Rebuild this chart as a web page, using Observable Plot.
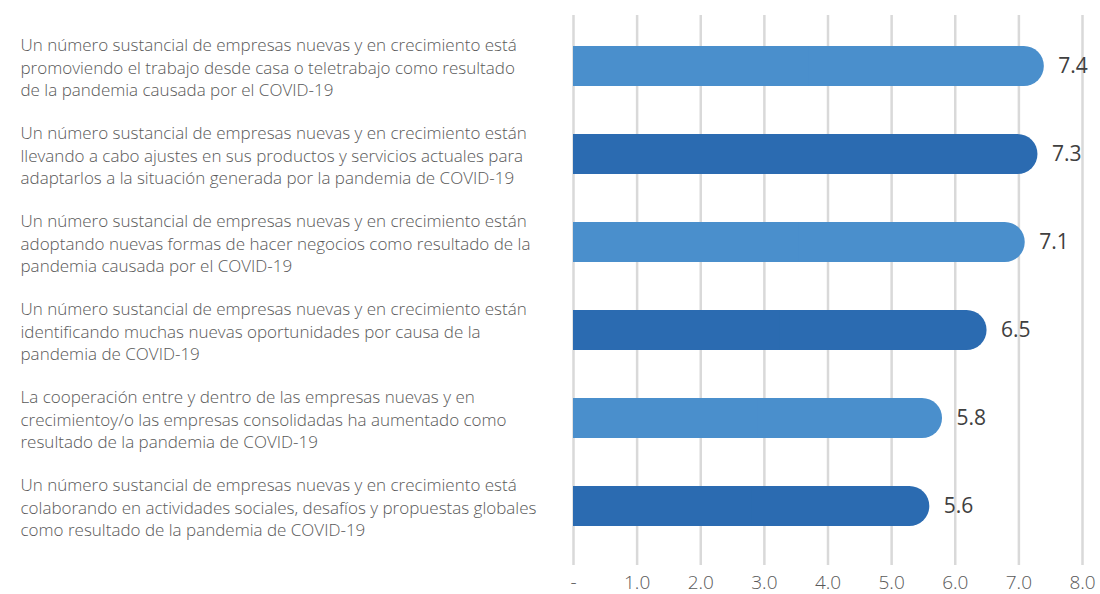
<!DOCTYPE html>
<html><head><meta charset="utf-8">
<script src="https://cdn.jsdelivr.net/npm/d3@7"></script>
<script src="https://cdn.jsdelivr.net/npm/@observablehq/plot@0.6"></script>
<style>body{margin:0;background:#fff;} svg{display:block;}</style>
</head><body><div id="chart"></div>
<script>
const categories = [
  "Un número sustancial de empresas nuevas y en crecimiento está\npromoviendo el trabajo desde casa o teletrabajo como resultado\nde la pandemia causada por el COVID-19",
  "Un número sustancial de empresas nuevas y en crecimiento están\nllevando a cabo ajustes en sus productos y servicios actuales para\nadaptarlos a la situación generada por la pandemia de COVID-19",
  "Un número sustancial de empresas nuevas y en crecimiento están\nadoptando nuevas formas de hacer negocios como resultado de la\npandemia causada por el COVID-19",
  "Un número sustancial de empresas nuevas y en crecimiento están\nidentificando muchas nuevas oportunidades por causa de la\npandemia de COVID-19",
  "La cooperación entre y dentro de las empresas nuevas y en\ncrecimientoy/o las empresas consolidadas ha aumentado como\nresultado de la pandemia de COVID-19",
  "Un número sustancial de empresas nuevas y en crecimiento está\ncolaborando en actividades sociales, desafíos y propuestas globales\ncomo resultado de la pandemia de COVID-19"
];
const values = [7.4, 7.3, 7.1, 6.5, 5.8, 5.6];
const shades = ["light", "dark", "light", "dark", "light", "dark"];
const ticks = [0, 1, 2, 3, 4, 5, 6, 7, 8];

const data = categories.map((c, i) => ({cat: c, value: values[i], shade: shades[i]}));
const fmt = d => d === 0 ? "-" : d3.format(".1f")(d);

const chart = Plot.plot({
  width: 1100,
  height: 594,
  marginLeft: 573,
  marginRight: 18,
  marginTop: 22,
  marginBottom: 44,
  style: {fontFamily: "'Open Sans', sans-serif", background: "#fff"},
  x: {domain: [0, 8], label: null},
  y: {domain: categories, paddingInner: 0.545, paddingOuter: 0.2725, label: null, axis: null},
  color: {domain: ["light", "dark"], range: ["#4a8fcc", "#2b6bb1"]},
  marks: [
    Plot.ruleX(ticks, {x: d => d, stroke: "#d9d9d9", strokeWidth: 2.5, insetTop: -7, insetBottom: -15}),
    Plot.axisX({ticks: ticks, tickFormat: fmt, tickSize: 0, tickPadding: 25, fontSize: 19, fill: "#595959", fontWeight: 300, label: null}),
    Plot.barX(data, {y: "cat", x1: 0, x2: "value", fill: "shade", rx: 20}),
    Plot.barX(data, {y: "cat", x1: 0, x2: d => d.value / 2, fill: "shade"}),
    Plot.text(data, {y: "cat", x: "value", text: d => d3.format(".1f")(d.value), dx: 14, textAnchor: "start", fontSize: 21, fill: "#404040"}),
    Plot.text(data, {y: "cat", x: 0, text: "cat", dx: -553, textAnchor: "start", fontSize: 17, fontWeight: 300, lineHeight: 1.3, fill: "#595959"})
  ]
});
document.getElementById("chart").appendChild(chart);
</script>
</body></html>
